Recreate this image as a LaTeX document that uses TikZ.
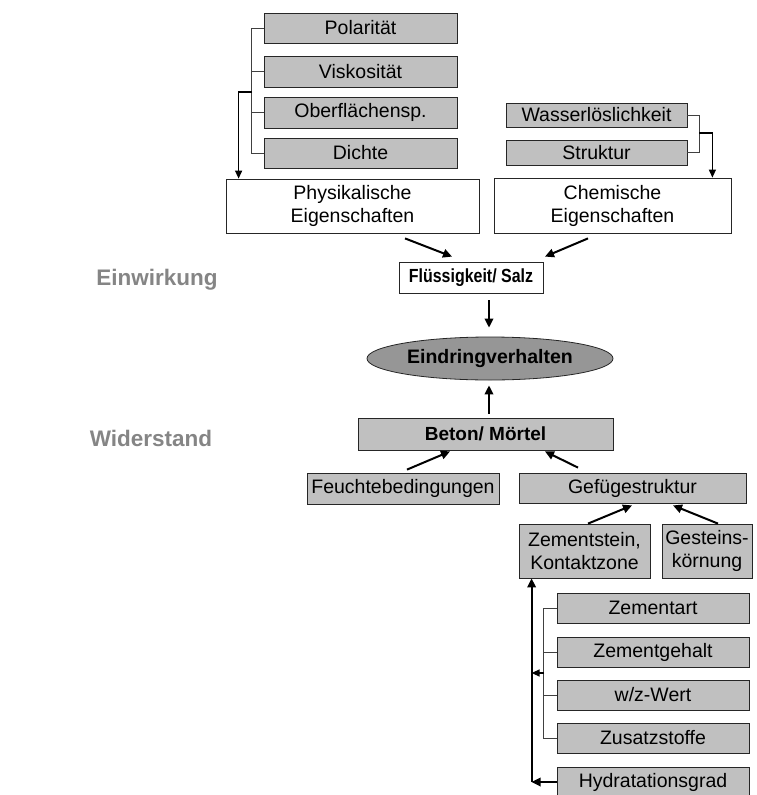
\documentclass[tikz,border=0pt]{standalone}
\usepackage{fontspec}
\setmainfont{Liberation Sans}
\usetikzlibrary{arrows.meta,calc,shapes.geometric}
\definecolor{boxgray}{HTML}{C0C0C0}
\definecolor{ellgray}{HTML}{969696}
\definecolor{labgray}{HTML}{858585}
\begin{document}
\begin{tikzpicture}[x=1pt,y=-1pt,
  box/.style={draw=black!85, line width=0.8pt, minimum width=#1, inner sep=0pt, align=center,
    font=\fontsize{19.5}{23}\selectfont},
  gbox/.style={box=#1, fill=boxgray},
  wbox/.style={box=#1, fill=white},
  brk/.style={draw=black!75, line width=0.8pt},
  arr/.style={draw=black, line width=2pt, -{Triangle[length=9pt,width=8.5pt]}},
  arrthin/.style={draw=black, line width=1.3pt, -{Triangle[length=8pt,width=7pt]}},
  lab/.style={text=labgray, font=\fontsize{22.5}{26}\selectfont\bfseries}]
\useasboundingbox (0,0) rectangle (756,795);

% labels
\node[lab] (ein) at (157,280) {Einwirkung};
\node[lab] (wid) at (151,438) {Widerstand};

% physical properties
\node[gbox=193, minimum height=30] (pol) at (360.5,28) {Polarität};
\node[gbox=193, minimum height=31] (vis) at (360.5,71.5) {Viskosität};
\node[gbox=193, minimum height=31] (obe) at (360.5,112.5) {Oberflächensp.};
\node[gbox=193, minimum height=30] (dic) at (360.5,153) {Dichte};
\node[wbox=253, minimum height=54] (phy) at (352.5,206) {Physikalische\\Eigenschaften};

\draw[brk] (pol.west) -- ++(-12,0) |- (dic.west);
\draw[brk] (vis.west) -- ++(-12,0);
\draw[brk] (obe.west) -- ++(-12,0);
\coordinate (pb) at (252,92);
\draw[arrthin] (pb) -| ($(phy.north west)+(13,0)$);

% chemical properties
\node[gbox=181, minimum height=24] (was) at (596.5,115) {Wasserlöslichkeit};
\node[gbox=181, minimum height=25] (str) at (596.5,152.5) {Struktur};
\node[wbox=237, minimum height=55] (chem) at (612.5,205.5) {Chemische\\Eigenschaften};

\draw[brk] (was.east) -- ++(12,0) |- (str.east);
\coordinate (cb) at (699,133);
\draw[arrthin] (cb) -| ($(chem.north east)+(-19,0)$);

% centre
\node[wbox=144, minimum height=31, font=\fontsize{19}{23}\selectfont\bfseries] (flu) at (471,277.5) {\scalebox{0.84}[1]{Flüssigkeit/ Salz}};
\node[ellipse, draw=black!85, line width=0.8pt, fill=ellgray, minimum width=246, minimum height=43, inner sep=0pt,
  font=\fontsize{19.5}{23}\selectfont\bfseries] (ell) at (490,358.5) {Eindringverhalten};
\node[gbox=255, minimum height=32, font=\fontsize{19}{23}\selectfont\bfseries] (bet) at (485.5,434) {Beton/ Mörtel};

\draw[arr] ($(phy.south)+(52.5,5)$) -- ($(flu.north)+(-19,-5)$);
\draw[arr] ($(chem.south)+(-24.5,5)$) -- ($(flu.north)+(74,-5)$);
\draw[arr] ($(flu.south)+(18,7)$) -- ($(ell.north)+(-1,-9)$);
\draw[arr] ($(bet.north)+(3.5,-4)$) -- ($(ell.south)+(-1,5)$);

% resistance side
\node[gbox=192, minimum height=31] (feu) at (403,488.5) {Feuchtebedingungen};
\node[gbox=227, minimum height=30] (gef) at (632.5,488) {Gefügestruktur};
\node[gbox=131, minimum height=54] (zem) at (584.5,551) {Zementstein,\\Kontaktzone};
\node[gbox=90, minimum height=54] (ges) at (707,551) {Gesteins-\\körnung};

\draw[arr] ($(feu.north)+(4,-3)$) -- ($(bet.south)+(-35.5,1)$);
\draw[arr] ($(gef.north)+(-54.5,-5)$) -- ($(bet.south)+(59.5,1)$);
\draw[arr] ($(zem.north)+(3.5,0)$) -- ($(gef.south)+(-0.5,2)$);
\draw[arr] ($(ges.north)+(11,0)$) -- ($(gef.south)+(40.5,2)$);

\node[gbox=192, minimum height=30] (za) at (653,608) {Zementart};
\node[gbox=192, minimum height=30] (zg) at (653,652) {Zementgehalt};
\node[gbox=192, minimum height=30] (wz) at (653,695) {w/z-Wert};
\node[gbox=192, minimum height=30] (zs) at (653,738) {Zusatzstoffe};
\node[gbox=192, minimum height=30] (hy) at (653,782) {Hydratationsgrad};

\draw[brk] (za.west) -- ++(-13,0) |- (zs.west);
\draw[brk] (zg.west) -- ++(-13,0);
\draw[brk] (wz.west) -- ++(-13,0);
\coordinate (zb) at (544,673);
\coordinate (zc) at ($(hy.west)+(-25,0)$);
\draw[arr] (hy.west) -- (zc);
\draw[arr] (zc) -- (zc |- zem.south);
\draw[arrthin] (zb) -- (zb -| zc);
\end{tikzpicture}
\end{document}
